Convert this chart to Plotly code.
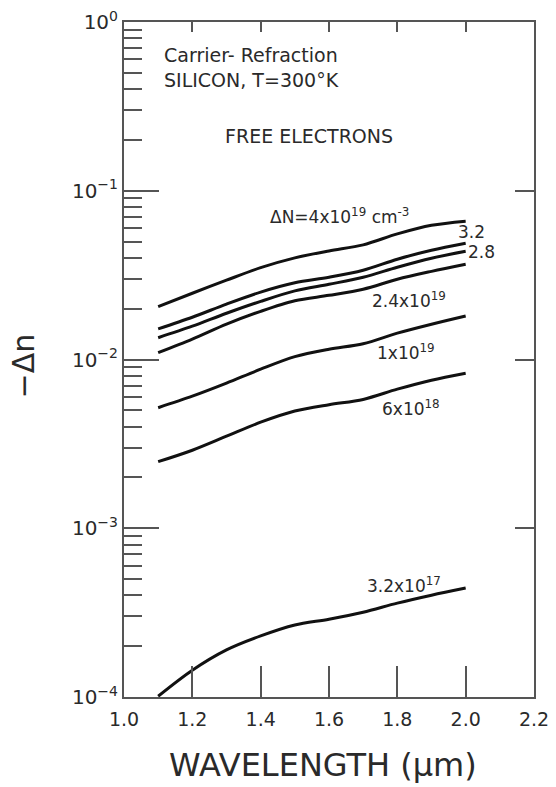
import plotly.graph_objects as go

# Wavelength samples (um)
wavelength = [1.1, 1.2, 1.3, 1.4, 1.5, 1.6, 1.7, 1.8, 1.9, 2.0]

# -delta n for each free-electron concentration
dn_4e19 = [0.02055, 0.0247, 0.0295, 0.0350, 0.0400, 0.0440, 0.0478, 0.0555, 0.0624, 0.0660]
dn_32e18 = [0.0152, 0.0178, 0.0213, 0.0251, 0.0285, 0.0307, 0.0338, 0.0393, 0.0444, 0.0489]
dn_28e18 = [0.01346, 0.01575, 0.0188, 0.0221, 0.0255, 0.0279, 0.0307, 0.0352, 0.0398, 0.0438]
dn_24e18 = [0.01097, 0.0132, 0.0162, 0.0193, 0.0223, 0.0240, 0.0261, 0.0299, 0.0333, 0.0367]
dn_1e19 = [0.00518, 0.00606, 0.00724, 0.00876, 0.0104, 0.0115, 0.0124, 0.01432, 0.01618, 0.0181]
dn_6e18 = [0.00248, 0.00290, 0.00351, 0.00425, 0.00495, 0.00540, 0.00580, 0.00667, 0.00754, 0.0083]
dn_32e17 = [0.000101, 0.000144, 0.000190, 0.000230, 0.000267, 0.000289, 0.000318, 0.000360, 0.000401, 0.000442]

series = [dn_4e19, dn_32e18, dn_28e18, dn_24e18, dn_1e19, dn_6e18, dn_32e17]

# Axis ticks
x_ticks = [1.0, 1.2, 1.4, 1.6, 1.8, 2.0, 2.2]
decades = [-4, -3, -2, -1, 0]
decade_labels = ["10<sup>−4</sup>", "10<sup>−3</sup>", "10<sup>−2</sup>", "10<sup>−1</sup>", "10<sup>0</sup>"]

FONT = "DejaVu Sans"
INK = "#2a2a2a"
AXIS = "#555555"

fig = go.Figure()
for s in series:
    fig.add_trace(go.Scatter(
        x=wavelength, y=s, mode="lines",
        line=dict(color="#111111", width=3, shape="spline", smoothing=0.9),
        showlegend=False, hoverinfo="skip",
    ))

# Transparent copy on the mirrored axes so the top and right frames get drawn
fig.add_trace(go.Scatter(
    x=wavelength, y=dn_4e19, mode="lines", xaxis="x2", yaxis="y2",
    line=dict(color="rgba(0,0,0,0)", width=0), showlegend=False, hoverinfo="skip",
))

decade_vals = [10.0 ** d for d in decades]
minor_vals = [m * 10.0 ** d for d in decades[:-1] for m in range(2, 10)]

fig.update_layout(
    width=556, height=787,
    margin=dict(l=124, r=22, t=22, b=90),
    paper_bgcolor="white", plot_bgcolor="white",
    font=dict(family=FONT, color=INK),
    xaxis=dict(
        range=[1.0, 2.2], tickvals=x_ticks, ticktext=[f"{v:.1f}" for v in x_ticks],
        ticks="inside", ticklen=31, tickwidth=1.5, tickcolor=AXIS,
        showline=True, linecolor=AXIS, linewidth=2, automargin=False,
        showgrid=False, zeroline=False, ticklabelstandoff=4,
        tickfont=dict(family=FONT, size=19, color=INK),
    ),
    xaxis2=dict(
        range=[1.0, 2.2], tickvals=x_ticks, overlaying="x", side="top", anchor="y",
        ticks="inside", ticklen=10, tickwidth=1.5, tickcolor=AXIS,
        showline=True, linecolor=AXIS, linewidth=2, automargin=False,
        showticklabels=False, showgrid=False, zeroline=False,
    ),
    yaxis=dict(
        type="log", range=[-4, 0], tickvals=decade_vals, ticktext=decade_labels,
        ticks="inside", ticklen=35, tickwidth=1.5, tickcolor=AXIS,
        minor=dict(tickmode="array", tickvals=minor_vals, ticks="inside", ticklen=18,
                   tickwidth=1.5, tickcolor=AXIS, showgrid=False),
        showline=True, linecolor=AXIS, linewidth=2, automargin=False,
        showgrid=False, zeroline=False,
        tickfont=dict(family=FONT, size=20, color=INK),
    ),
    yaxis2=dict(
        type="log", range=[-4, 0], tickvals=decade_vals, overlaying="y", side="right", anchor="x",
        ticks="inside", ticklen=19, tickwidth=1.5, tickcolor=AXIS,
        showline=True, linecolor=AXIS, linewidth=2, automargin=False,
        showticklabels=False, showgrid=False, zeroline=False,
    ),
)

# Axis titles
fig.add_annotation(x=0.485, y=-0.101, xref="paper", yref="paper", text="WAVELENGTH (μm)",
                   showarrow=False, xanchor="center", yanchor="middle",
                   font=dict(family=FONT, size=32, color=INK))
fig.add_annotation(x=-0.246, y=0.49, xref="paper", yref="paper", text="−Δn",
                   textangle=-90, showarrow=False, xanchor="center", yanchor="middle",
                   font=dict(family=FONT, size=30, color=INK))

# Curve labels (x in um, y in log10 units on the log axis)
labels = [
    ("ΔN=4x10<sup>19</sup> cm<sup>-3</sup>", 1.631, -1.150),
    ("3.2", 2.016, -1.244),
    ("2.8", 2.045, -1.361),
    ("2.4x10<sup>19</sup>", 1.834, -1.647),
    ("1x10<sup>19</sup>", 1.825, -1.956),
    ("6x10<sup>18</sup>", 1.841, -2.287),
    ("3.2x10<sup>17</sup>", 1.819, -3.336),
]
for text, x, y in labels:
    fig.add_annotation(x=x, y=y, xref="x", yref="y", text=text, showarrow=False,
                       xanchor="center", yanchor="middle",
                       font=dict(family=FONT, size=17, color=INK))

# Header text
header = [
    ("Carrier- Refraction", 1.110, -0.196, "left"),
    ("SILICON, T=300°K", 1.110, -0.344, "left"),
    ("FREE ELECTRONS", 1.541, -0.676, "center"),
]
for text, x, y, anchor in header:
    fig.add_annotation(x=x, y=y, xref="x", yref="y", text=text, showarrow=False,
                       xanchor=anchor, yanchor="middle",
                       font=dict(family=FONT, size=19, color=INK))

fig.write_html("out.html")
